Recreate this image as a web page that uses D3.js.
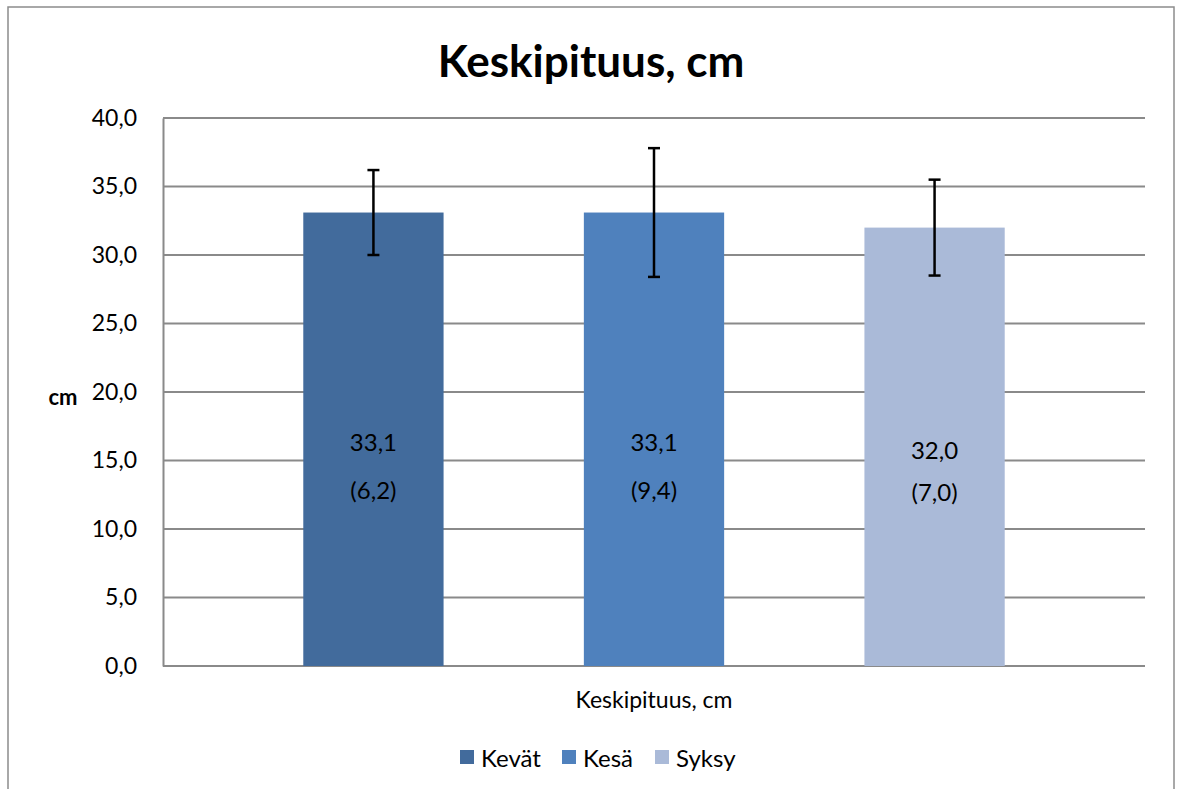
<!DOCTYPE html>
<html><head><meta charset="utf-8">
<script src="https://cdn.jsdelivr.net/npm/d3@7"></script>
<style>body{margin:0;background:#fff}svg{display:block}text{font-family:Lato,"Open Sans",sans-serif}</style>
</head><body><svg id="c" width="1181" height="789"></svg>
<script>
const series = ["Kevät","Kesä","Syksy"];
const means = [33.1, 33.1, 32.0];
const sds = [6.2, 9.4, 7.0];
const errHalf = [3.1, 4.7, 3.5];
const colors = ["#426B9C","#4F81BD","#AABAD8"];
const yTicks = [0,5,10,15,20,25,30,35,40];
const category = "Keskipituus, cm";
const title = "Keskipituus, cm";

const svg = d3.select("#c");
const L=163, R=1145, T=118, B=666;
const fmt = v => d3.format(".1f")(v).replace(".", ",");

svg.append("rect").attr("x",8).attr("y",7).attr("width",1166).attr("height",800)
  .attr("fill","#fff").attr("stroke","#8c8c8c").attr("stroke-width",1.5);

const y = d3.scaleLinear().domain([0,40]).range([B,T]);
const x = d3.scaleBand().domain(series).range([L,R]).paddingInner(0.5).paddingOuter(0.5);

svg.append("g").selectAll("line").data(yTicks.slice(1)).join("line")
  .attr("x1",L).attr("x2",R).attr("y1",d=>y(d)).attr("y2",d=>y(d))
  .attr("stroke","#8a8a8a").attr("stroke-width",2);

const yAxis = d3.axisLeft(y).tickValues(yTicks).tickFormat(fmt).tickSize(0).tickPadding(26);
const ga = svg.append("g").attr("transform",`translate(${L},0)`).call(yAxis);
ga.select(".domain").attr("stroke","#8a8a8a").attr("stroke-width",2);
ga.selectAll("text").attr("font-size",23).attr("fill","#000").style("font-family","Lato, 'Open Sans', sans-serif");
svg.append("line").attr("x1",L).attr("x2",R).attr("y1",B).attr("y2",B).attr("stroke","#8a8a8a").attr("stroke-width",2);

svg.append("g").selectAll("rect").data(series).join("rect")
  .attr("x",d=>x(d)).attr("width",x.bandwidth())
  .attr("y",(d,i)=>y(means[i])).attr("height",(d,i)=>B-y(means[i]))
  .attr("fill",(d,i)=>colors[i]);

const eb = svg.append("g").attr("stroke","#000").attr("stroke-width",2.5);
series.forEach((s,i)=>{
  const cx = x(s)+x.bandwidth()/2;
  const y1 = y(means[i]+errHalf[i]), y2 = y(means[i]-errHalf[i]);
  eb.append("line").attr("x1",cx).attr("x2",cx).attr("y1",y1).attr("y2",y2);
  eb.append("line").attr("x1",cx-6).attr("x2",cx+6).attr("y1",y1).attr("y2",y1);
  eb.append("line").attr("x1",cx-6).attr("x2",cx+6).attr("y1",y2).attr("y2",y2);
});

const lblY1 = [441,441,449], lblY2=[489,489,491];
series.forEach((s,i)=>{
  const cx = x(s)+x.bandwidth()/2;
  svg.append("text").attr("x",cx).attr("y",lblY1[i]).attr("text-anchor","middle").attr("dominant-baseline","central")
    .attr("font-size",24).text(fmt(means[i]));
  svg.append("text").attr("x",cx).attr("y",lblY2[i]).attr("text-anchor","middle").attr("dominant-baseline","central")
    .attr("font-size",24).text("(" + fmt(sds[i]) + ")");
});

svg.append("text").attr("x",591).attr("y",60).attr("text-anchor","middle").attr("dominant-baseline","central")
  .attr("font-size",44).attr("font-weight","bold").text(title);
svg.append("text").attr("x",63).attr("y",396).attr("text-anchor","middle").attr("dominant-baseline","central")
  .attr("font-size",22).attr("font-weight","bold").text("cm");
svg.append("text").attr("x",(L+R)/2).attr("y",699).attr("text-anchor","middle").attr("dominant-baseline","central")
  .attr("font-size",23).text(category);

const lx = [460,562,655];
const lg = svg.append("g");
series.forEach((s,i)=>{
  lg.append("rect").attr("x",lx[i]).attr("y",750).attr("width",14).attr("height",14).attr("fill",colors[i]);
  lg.append("text").attr("x",lx[i]+21).attr("y",757).attr("dominant-baseline","central").attr("font-size",24).text(s);
});
</script></body></html>
